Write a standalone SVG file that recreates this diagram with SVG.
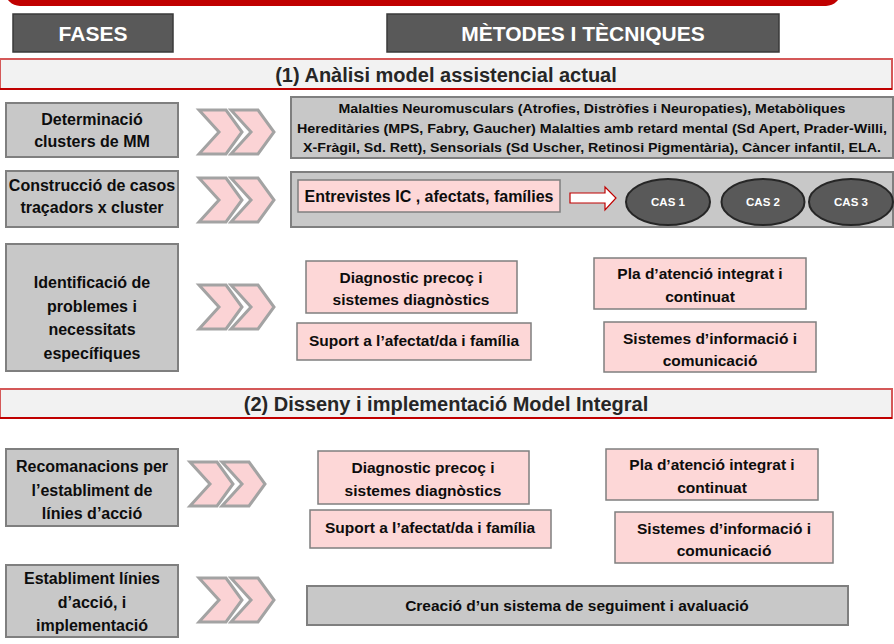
<svg xmlns="http://www.w3.org/2000/svg" width="894" height="644" viewBox="0 0 894 644">
  <style>
    text { font-family: "Liberation Sans", Arial, sans-serif; font-weight: bold; text-anchor: middle; fill: #0d0d0d; }
    .hdr { fill: #595959; stroke: #3a3a3a; stroke-width: 1.5; }
    .hdr-t { fill: #ffffff; font-size: 21px; }
    .band { fill: #f2f2f2; stroke: #d45858; stroke-width: 2; }
    .band-line { stroke: #c00000; stroke-width: 2; }
    .band-t { font-size: 20px; fill: #262626; }
    .phase { fill: #c8c8c8; stroke: #7f7f7f; stroke-width: 2; }
    .phase-t { font-size: 16px; }
    .meth { fill: #c8c8c8; stroke: #7f7f7f; stroke-width: 2; }
    .meth-t { font-size: 12.5px; }
    .pink { fill: #fdd7d7; stroke: #7f7f7f; stroke-width: 1.5; }
    .pink-t { font-size: 15.5px; }
    .cas { fill: #595959; stroke: #262626; stroke-width: 2; }
    .cas-t { fill: #ffffff; font-size: 11.5px; }
    .chev { fill: #fbd3d5; stroke: #a3a3a3; stroke-width: 3; stroke-linejoin: miter; }
  </style>
  <defs>
    <polygon id="chevron" points="0,0 27,0 43,22 27,44 0,44 20,22"/>
  </defs>

  <rect width="894" height="644" fill="#ffffff"/>

  <!-- top frame edge -->
  <rect x="8" y="-40" width="830" height="43" rx="12" fill="#ffffff" stroke="#c00000" stroke-width="6"/>

  <!-- column headers -->
  <g id="hdr-fases">
    <rect class="hdr" x="13" y="14" width="160" height="38"/>
    <text class="hdr-t" x="93" y="41">FASES</text>
  </g>
  <g id="hdr-metodes">
    <rect class="hdr" x="387" y="14" width="392" height="38"/>
    <text class="hdr-t" x="583" y="41">MÈTODES I TÈCNIQUES</text>
  </g>

  <!-- section 1 -->
  <g id="section-1">
    <rect class="band" x="0" y="59" width="892" height="30"/>
    <line class="band-line" x1="0" y1="89" x2="892" y2="89"/>
    <text class="band-t" x="446" y="82">(1) Anàlisi model assistencial actual</text>
  </g>

  <g id="phase-clusters">
    <rect class="phase" x="6" y="103" width="172" height="54"/>
    <text class="phase-t" x="92" y="125">Determinació</text>
    <text class="phase-t" x="92" y="147">clusters de MM</text>
  </g>
  <g id="meth-clusters">
    <rect class="meth" x="291" y="97" width="602" height="61"/>
    <text class="meth-t" x="592" y="113" textLength="507" lengthAdjust="spacingAndGlyphs">Malalties Neuromusculars (Atrofies, Distròfies i Neuropaties),  Metabòliques</text>
    <text class="meth-t" x="592" y="133" textLength="590" lengthAdjust="spacingAndGlyphs">Hereditàries  (MPS, Fabry, Gaucher) Malalties amb retard mental (Sd Apert, Prader-Willi,</text>
    <text class="meth-t" x="592" y="152" textLength="578" lengthAdjust="spacingAndGlyphs">X-Fràgil, Sd. Rett), Sensorials (Sd Uscher, Retinosi Pigmentària), Càncer infantil, ELA.</text>
  </g>

  <g id="phase-casos">
    <rect class="phase" x="6" y="171" width="172" height="56"/>
    <text class="phase-t" x="92" y="191">Construcció de casos</text>
    <text class="phase-t" x="92" y="213">traçadors x cluster</text>
  </g>
  <g id="meth-casos">
    <rect class="meth" x="291" y="172" width="602" height="55" stroke="#333333"/>
    <rect class="pink" x="298" y="180" width="262" height="32"/>
    <text class="pink-t" x="429" y="202" style="font-size:16px">Entrevistes IC , afectats, famílies</text>
  </g>
  <g id="cas-1">
    <ellipse class="cas" cx="668" cy="202" rx="42" ry="23"/>
    <text class="cas-t" x="668" y="206">CAS 1</text>
  </g>
  <g id="cas-2">
    <ellipse class="cas" cx="763" cy="202" rx="41.5" ry="23"/>
    <text class="cas-t" x="763" y="206">CAS 2</text>
  </g>
  <g id="cas-3">
    <ellipse class="cas" cx="851" cy="202" rx="42" ry="23"/>
    <text class="cas-t" x="851" y="206">CAS 3</text>
  </g>

  <g id="phase-problemes">
    <rect class="phase" x="6" y="244" width="172" height="127"/>
    <text class="phase-t" x="92" y="288">Identificació de</text>
    <text class="phase-t" x="92" y="312">problemes i</text>
    <text class="phase-t" x="92" y="335">necessitats</text>
    <text class="phase-t" x="92" y="359">específiques</text>
  </g>
  <g id="p1-diagnostic">
    <rect class="pink" x="306" y="261" width="211" height="52"/>
    <text class="pink-t" x="411" y="283">Diagnostic precoç i</text>
    <text class="pink-t" x="411" y="305">sistemes diagnòstics</text>
  </g>
  <g id="p1-pla">
    <rect class="pink" x="594" y="258" width="212" height="51"/>
    <text class="pink-t" x="700" y="279">Pla d’atenció integrat i</text>
    <text class="pink-t" x="700" y="302">continuat</text>
  </g>
  <g id="p1-suport">
    <rect class="pink" x="297" y="323" width="234" height="37"/>
    <text class="pink-t" x="414" y="346">Suport a l’afectat/da i família</text>
  </g>
  <g id="p1-sistemes">
    <rect class="pink" x="604" y="322" width="212" height="50"/>
    <text class="pink-t" x="710" y="344">Sistemes d’informació i</text>
    <text class="pink-t" x="710" y="366">comunicació</text>
  </g>

  <!-- section 2 -->
  <g id="section-2">
    <rect class="band" x="0" y="389" width="892" height="29"/>
    <line class="band-line" x1="0" y1="418" x2="892" y2="418"/>
    <text class="band-t" x="446" y="411">(2) Disseny i implementació Model Integral</text>
  </g>

  <g id="phase-recomanacions">
    <rect class="phase" x="6" y="449" width="172" height="77"/>
    <text class="phase-t" x="92" y="472">Recomanacions per</text>
    <text class="phase-t" x="92" y="496">l’establiment de</text>
    <text class="phase-t" x="92" y="519">línies d’acció</text>
  </g>
  <g id="p2-diagnostic">
    <rect class="pink" x="318" y="451" width="211" height="53"/>
    <text class="pink-t" x="423" y="473">Diagnostic precoç i</text>
    <text class="pink-t" x="423" y="496">sistemes diagnòstics</text>
  </g>
  <g id="p2-pla">
    <rect class="pink" x="606" y="449" width="212" height="51"/>
    <text class="pink-t" x="712" y="470">Pla d’atenció integrat i</text>
    <text class="pink-t" x="712" y="493">continuat</text>
  </g>
  <g id="p2-suport">
    <rect class="pink" x="310" y="510" width="241" height="38"/>
    <text class="pink-t" x="430" y="533">Suport a l’afectat/da i família</text>
  </g>
  <g id="p2-sistemes">
    <rect class="pink" x="615" y="512" width="218" height="51"/>
    <text class="pink-t" x="724" y="534">Sistemes d’informació i</text>
    <text class="pink-t" x="724" y="556">comunicació</text>
  </g>

  <g id="phase-implementacio">
    <rect class="phase" x="6" y="565" width="172" height="72"/>
    <text class="phase-t" x="92" y="584">Establiment línies</text>
    <text class="phase-t" x="92" y="608">d’acció, i</text>
    <text class="phase-t" x="92" y="631">implementació</text>
  </g>
  <g id="meth-seguiment">
    <rect class="meth" x="307" y="586" width="541" height="39"/>
    <text class="pink-t" x="577" y="611">Creació d’un sistema de seguiment i avaluació</text>
  </g>

  <!-- connectors: double chevrons and the outline arrow -->
  <g id="connectors">
    <use class="chev" href="#chevron" x="199" y="110"/>
    <use class="chev" href="#chevron" x="231" y="110"/>
    <use class="chev" href="#chevron" x="199" y="178"/>
    <use class="chev" href="#chevron" x="231" y="178"/>
    <use class="chev" href="#chevron" x="199" y="285"/>
    <use class="chev" href="#chevron" x="231" y="285"/>
    <use class="chev" href="#chevron" x="190" y="462"/>
    <use class="chev" href="#chevron" x="222" y="462"/>
    <use class="chev" href="#chevron" x="199" y="578"/>
    <use class="chev" href="#chevron" x="231" y="578"/>
    <polygon points="570,193 605,193 605,187 616,198 605,210 605,203 570,203" fill="#ffffff" stroke="#c00000" stroke-width="1.2"/>
  </g>
</svg>
